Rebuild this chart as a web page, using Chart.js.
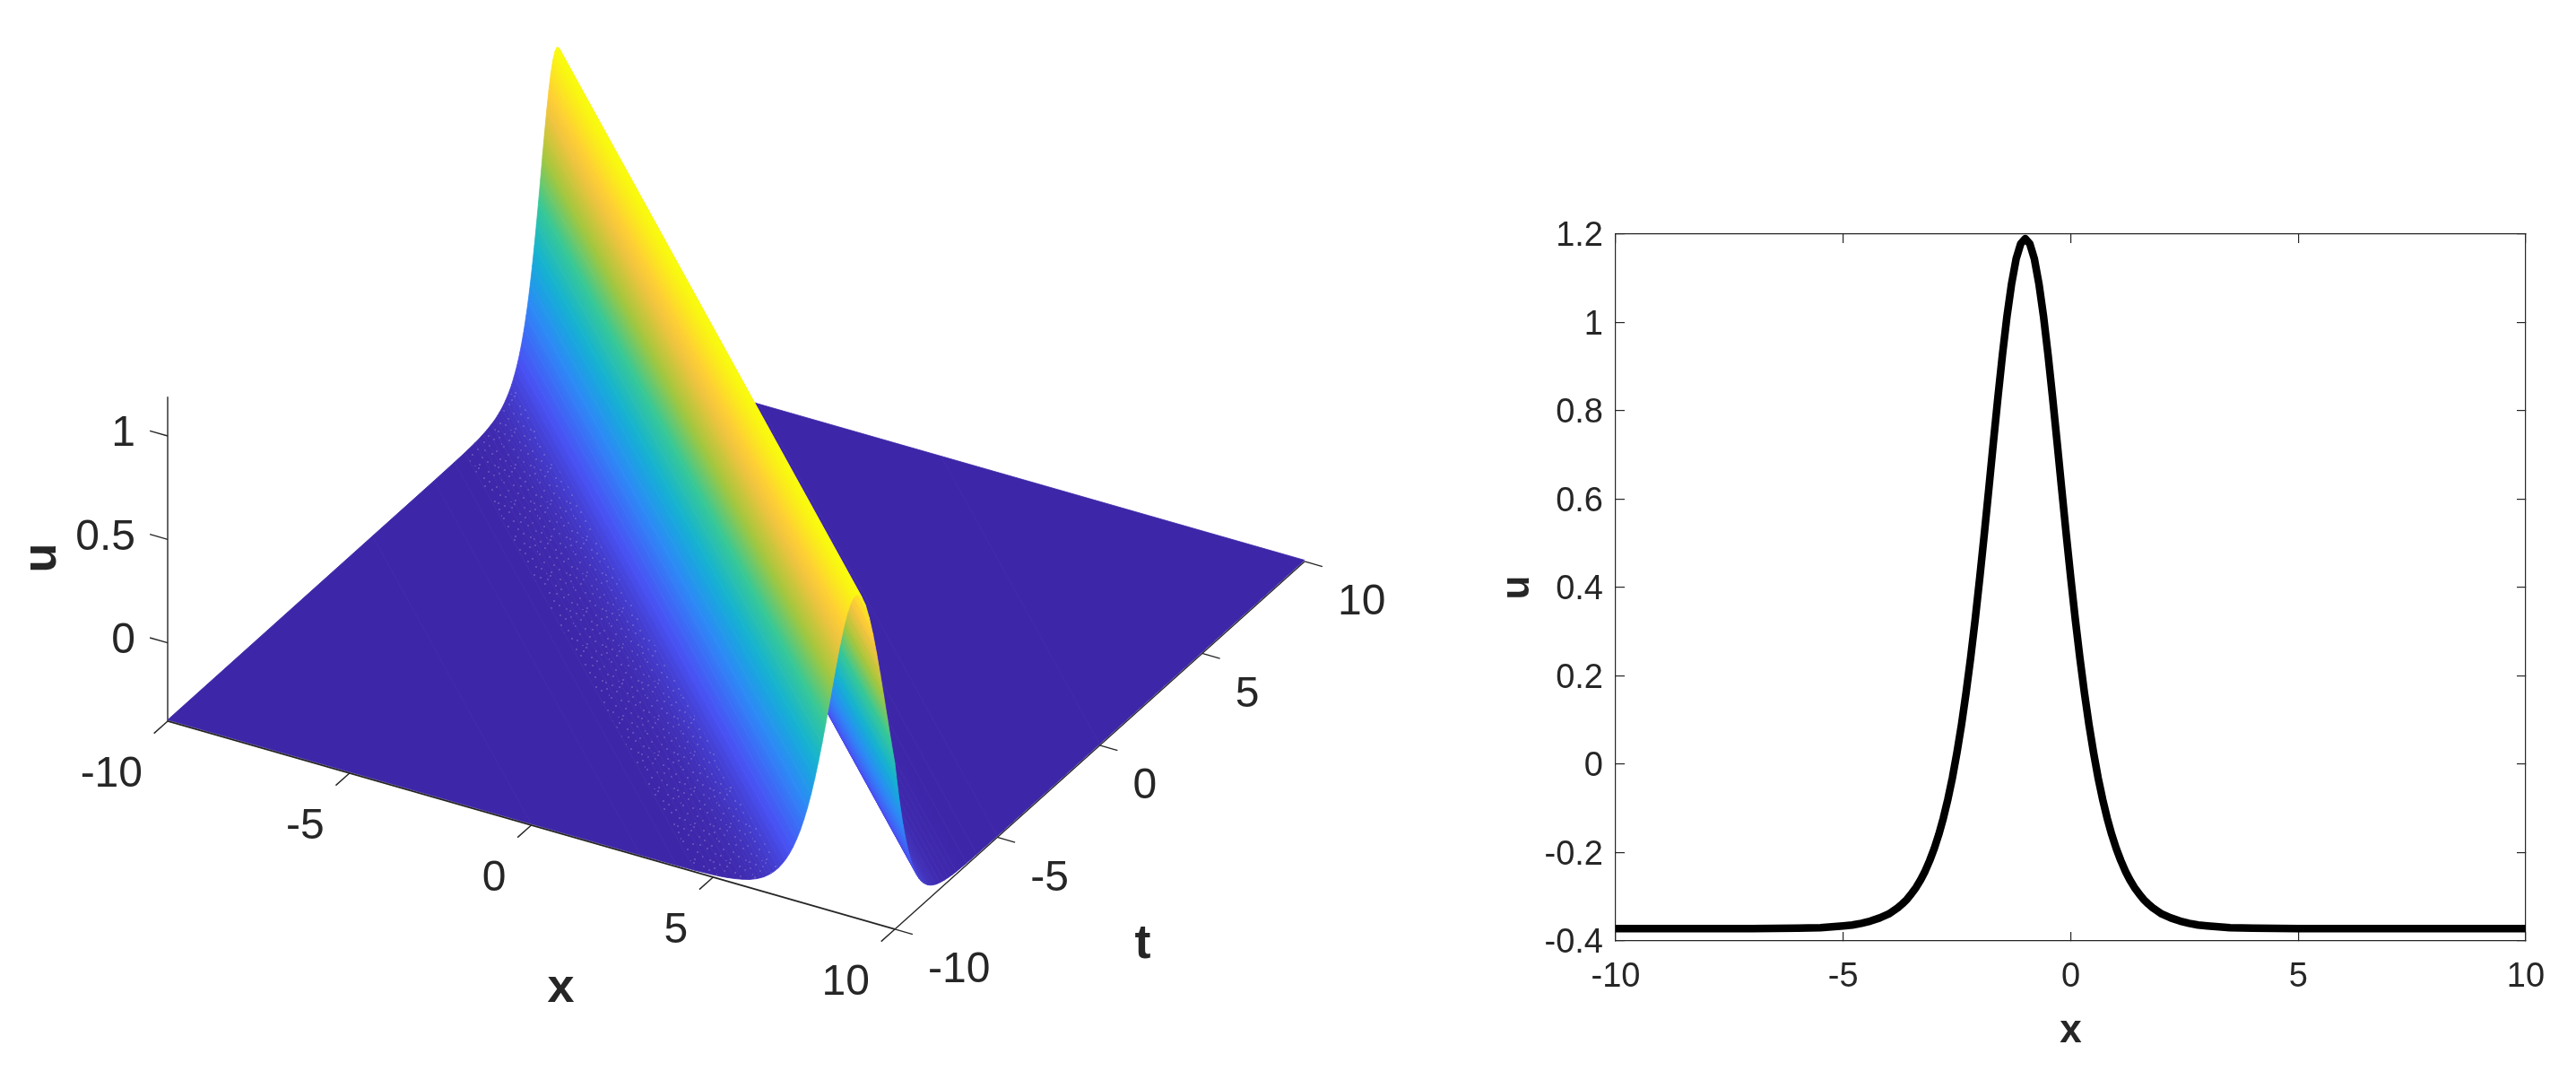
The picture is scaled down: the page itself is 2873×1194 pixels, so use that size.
<!DOCTYPE html>
<html>
<head>
<meta charset="utf-8">
<title>soliton</title>
<script src="https://cdn.jsdelivr.net/npm/chart.js@4/dist/chart.umd.min.js"></script>
<style>
    html, body { margin: 0; padding: 0; background: #fff; }
    canvas { position: absolute; top: 0; }
    #surfaceChart { left: 0; }
    #profileChart { left: 1640px; }
</style>
</head>
<body>
<canvas id="surfaceChart" width="1640" height="1194"></canvas>
<canvas id="profileChart" width="1233" height="1194"></canvas>
<script>
// u profile at t = 0 (x from -20 and to 20 only feeds the surface)
const xValues = [
    -20, -10, -7, -6, -5.5, -5, -4.8, -4.6, -4.4, -4.2, -4,
    -3.9, -3.8, -3.7, -3.6, -3.5, -3.4, -3.3, -3.2, -3.1, -3,
    -2.9, -2.8, -2.7, -2.6, -2.5, -2.4, -2.3, -2.2, -2.1, -2,
    -1.9, -1.8, -1.7, -1.6, -1.5, -1.4, -1.3, -1.2, -1.1, -1,
    -0.9, -0.8, -0.7, -0.6, -0.5, -0.4, -0.3, -0.2, -0.1, 0,
    0.1, 0.2, 0.3, 0.4, 0.5, 0.6, 0.7, 0.8, 0.9, 1,
    1.1, 1.2, 1.3, 1.4, 1.5, 1.6, 1.7, 1.8, 1.9, 2,
    2.2, 2.4, 2.6, 2.8, 3, 3.5, 4, 5, 10, 20
];
const uValues = [
    -0.372, -0.372, -0.372, -0.371, -0.370, -0.366, -0.364, -0.360, -0.355, -0.348, -0.339,
    -0.332, -0.325, -0.316, -0.306, -0.293, -0.279, -0.262, -0.242, -0.218, -0.191,
    -0.159, -0.122, -0.079, -0.030, 0.027, 0.090, 0.162, 0.241, 0.328, 0.422,
    0.521, 0.624, 0.729, 0.831, 0.928, 1.015, 1.088, 1.144, 1.178, 1.190,
    1.178, 1.144, 1.088, 1.015, 0.928, 0.831, 0.729, 0.624, 0.521, 0.422,
    0.328, 0.241, 0.162, 0.090, 0.027, -0.030, -0.079, -0.122, -0.159, -0.191,
    -0.218, -0.242, -0.262, -0.279, -0.293, -0.306, -0.316, -0.325, -0.332, -0.339,
    -0.348, -0.355, -0.360, -0.364, -0.366, -0.370, -0.371, -0.372, -0.372, -0.372
];

const xTicks = [-10, -5, 0, 5, 10];
const tTicks = [-10, -5, 0, 5, 10];
const uTicks3d = [0, 0.5, 1];
const uTicks2d = [-0.4, -0.2, 0, 0.2, 0.4, 0.6, 0.8, 1, 1.2];

const uBottom = -0.378;
const uTop = 1.19;
const textColor = "#262626";

// parula colormap stops
const parula = [
    [62, 38, 168], [72, 82, 244], [46, 135, 247], [18, 177, 214],
    [55, 200, 151], [171, 199, 57], [255, 195, 64], [249, 251, 14]
];

// the mesh shows small light specks at the foot of the near slope
const speckleFrom = -5.5;
const speckleTo = -3.2;
const speckleDots = [
    [2, 3], [13, 1], [24, 5], [35, 0], [7, 10], [19, 12], [30, 9], [39, 14],
    [1, 17], [12, 20], [25, 16], [33, 22], [6, 26], [17, 29], [28, 25], [37, 31],
    [3, 33], [14, 37], [23, 34], [31, 38], [9, 39], [20, 21], [36, 7], [10, 5]
];

function colorFor(u) {
    const f = Math.min(Math.max((u - uValues[0]) / (uTop - uValues[0]), 0), 1) * (parula.length - 1);
    const i = Math.min(Math.floor(f), parula.length - 2);
    const c = parula[i].map((v, k) => Math.round(v + (parula[i + 1][k] - v) * (f - i)));
    return "rgb(" + c.join(",") + ")";
}

// fixed MATLAB style view of the (x, t, u) box
function project(x, t, u) {
    return {
        x: 187 + 40.55 * (x + 10) + 22.85 * (t + 10),
        y: 716.7 + 11.6 * (x + 10) - 20.5 * (t + 10) - 230.7 * u,
    };
}

// the wave keeps its shape along x + t = const, so every profile point is a straight strip
function stripEnds(x0, u) {
    const low = Math.max(-10, x0 - 10);
    const high = Math.min(10, x0 + 10);
    return [project(x0 - low, low, u), project(x0 - high, high, u)];
}

function axisLine(a, b, width) {
    return {
        data: [a, b],
        showLine: true,
        borderColor: textColor,
        borderWidth: width || 1.4,
        pointRadius: 0,
    };
}

// datasets that come first are painted last
const surfaceSets = [];
surfaceSets.push(axisLine(project(-10, -10, uBottom), project(10, -10, uBottom), 1.8));
xTicks.forEach((v) => surfaceSets.push(axisLine(project(v, -10, uBottom), project(v, -10.67, uBottom))));

for (let i = 0; i < xValues.length - 1; i++) {
    const a = stripEnds(xValues[i], uValues[i]);
    const b = stripEnds(xValues[i + 1], uValues[i + 1]);
    surfaceSets.push({
        data: [a[0], a[1], b[1], b[0]],
        showLine: false,
        pointRadius: 0,
        bandColors: [colorFor(uValues[i]), colorFor(uValues[i + 1])],
        speckled: xValues[i] >= speckleFrom && xValues[i + 1] <= speckleTo,
    });
}

surfaceSets.push(axisLine(project(10, -10, uBottom), project(10, 10, uBottom)));
tTicks.forEach((v) => surfaceSets.push(axisLine(project(10, v, uBottom), project(10.49, v, uBottom))));
surfaceSets.push(axisLine(project(-10, -10, uBottom), project(-10, -10, uTop)));
uTicks3d.forEach((v) => surfaceSets.push(axisLine(project(-10, -10, v), project(-10.49, -10, v))));

function speckleTile() {
    const tile = document.createElement("canvas");
    tile.width = 40;
    tile.height = 40;
    const c = tile.getContext("2d");
    c.fillStyle = "rgba(175,165,215,0.3)";
    speckleDots.forEach((d) => c.fillRect(d[0], d[1], 2, 2));
    return tile;
}

// fills one colour band of the surface, the gradient runs across the strip
const bandPlugin = {
    id: "bandPlugin",
    beforeDatasetDraw(chart, args) {
        const ds = chart.data.datasets[args.index];
        if (!ds.bandColors) return;
        const p = args.meta.data;
        const ctx = chart.ctx;
        let paint = ds.bandColors[0];
        const dx = p[1].x - p[0].x;
        const dy = p[1].y - p[0].y;
        const len = Math.hypot(dx, dy);
        if (ds.bandColors[0] !== ds.bandColors[1] && len > 1) {
            const vx = p[3].x - p[0].x;
            const vy = p[3].y - p[0].y;
            const along = (vx * dx + vy * dy) / (len * len);
            const g = ctx.createLinearGradient(p[0].x, p[0].y, p[0].x + vx - along * dx, p[0].y + vy - along * dy);
            g.addColorStop(0, ds.bandColors[0]);
            g.addColorStop(1, ds.bandColors[1]);
            paint = g;
        }
        ctx.save();
        ctx.beginPath();
        ctx.moveTo(p[0].x, p[0].y);
        for (let i = 1; i < 4; i++) ctx.lineTo(p[i].x, p[i].y);
        ctx.closePath();
        ctx.fillStyle = paint;
        ctx.strokeStyle = paint;
        ctx.lineWidth = 0.8;
        ctx.fill();
        ctx.stroke();
        if (ds.speckled) {
            ctx.fillStyle = ctx.createPattern(speckleTile(), "repeat");
            ctx.fill();
        }
        ctx.restore();
    },
};

// tick labels and axis titles of the 3D box, placed next to the projected ticks
const boxTextPlugin = {
    id: "boxTextPlugin",
    afterDraw(chart) {
        const ctx = chart.ctx;
        const sx = chart.scales.x;
        const sy = chart.scales.y;
        function put(p, dx, dy, text, align) {
            ctx.textAlign = align;
            ctx.fillText(text, sx.getPixelForValue(p.x) + dx, sy.getPixelForValue(p.y) + dy);
        }
        ctx.save();
        ctx.fillStyle = textColor;
        ctx.textBaseline = "middle";
        ctx.font = '48px "Liberation Sans"';
        xTicks.forEach((v) => put(project(v, -10, uBottom), -28, 60, String(v), "right"));
        tTicks.forEach((v) => put(project(10, v, uBottom), 37, 46, String(v), "left"));
        uTicks3d.forEach((v) => put(project(-10, -10, v), -36, -2, String(v), "right"));
        ctx.font = 'bold 54px "Liberation Sans"';
        put(project(0, -10, uBottom), 33, 182, "x", "center");
        put(project(10, 0, uBottom), 48, 222, "t", "center");
        ctx.translate(47, 622);
        ctx.rotate(-Math.PI / 2);
        ctx.textAlign = "center";
        ctx.fillText("u", 0, 0);
        ctx.restore();
    },
};

new Chart(document.getElementById("surfaceChart").getContext("2d"), {
    type: "scatter",
    data: { datasets: surfaceSets },
    plugins: [bandPlugin, boxTextPlugin],
    options: {
        responsive: false,
        animation: false,
        events: [],
        layout: { padding: 0 },
        plugins: { legend: { display: false }, tooltip: { enabled: false } },
        scales: {
            x: { type: "linear", display: false, min: 0, max: 1640 },
            y: { type: "linear", display: false, min: 0, max: 1194, reverse: true },
        },
    },
});

function frameAxis(position, tickList, extra) {
    const horizontal = position === "top" || position === "bottom";
    return Object.assign({
        type: "linear",
        position: position,
        min: tickList[0],
        max: tickList[tickList.length - 1],
        afterBuildTicks: function (axis) {
            axis.ticks = tickList.map((v) => ({ value: v }));
        },
        afterFit: function (axis) {
            if (horizontal) axis.height = 0;
            else axis.width = 0;
        },
        grid: {
            drawOnChartArea: false,
            drawTicks: true,
            tickLength: -10,
            color: textColor,
            lineWidth: 1.2,
        },
        border: { display: true, color: textColor, width: 1.2 },
        ticks: { display: false },
    }, extra);
}

const tickFont = { family: "Liberation Sans", size: 38 };
const titleFont = { family: "Liberation Sans", size: 44, weight: "bold" };
const plainLabel = (v) => String(v);

new Chart(document.getElementById("profileChart").getContext("2d"), {
    type: "scatter",
    data: {
        datasets: [
            {
                data: xValues.map((v, i) => ({ x: v, y: uValues[i] })),
                showLine: true,
                borderColor: "#000000",
                borderWidth: 8.5,
                pointRadius: 0,
                borderJoinStyle: "round",
            },
        ],
    },
    options: {
        responsive: false,
        animation: false,
        events: [],
        layout: { padding: { left: 0, right: 56, top: 261, bottom: 0 } },
        plugins: { legend: { display: false }, tooltip: { enabled: false } },
        scales: {
            x: frameAxis("bottom", xTicks, {
                afterFit: function (axis) {
                    axis.height = 145;
                },
                ticks: { font: tickFont, color: textColor, padding: 28, maxRotation: 0, minRotation: 0, autoSkip: false, callback: plainLabel },
                title: { display: true, text: "x", font: titleFont, color: textColor, padding: { top: 0, bottom: 18 } },
            }),
            y: frameAxis("left", uTicks2d, {
                afterFit: function (axis) {
                    axis.width = 162;
                },
                ticks: { font: tickFont, color: textColor, padding: 24, labelOffset: 3, autoSkip: false, callback: plainLabel },
                title: { display: true, text: "u", font: titleFont, color: textColor, padding: { top: 26, bottom: 0 } },
            }),
            x2: frameAxis("top", xTicks),
            y2: frameAxis("right", uTicks2d),
        },
    },
});
</script>
</body>
</html>
